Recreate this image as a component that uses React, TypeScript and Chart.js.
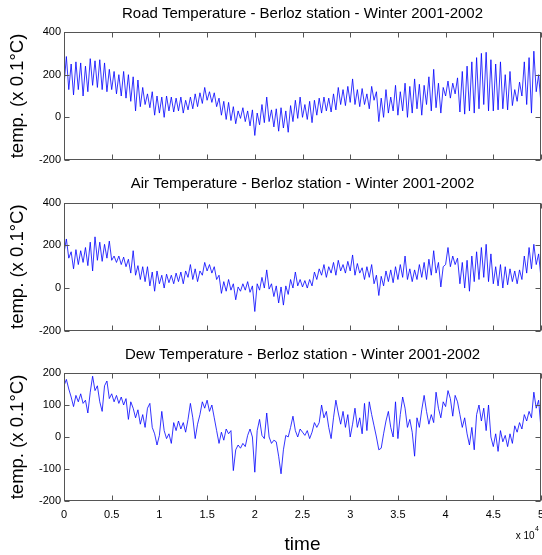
import React, { useEffect, useRef } from 'react';
import { Chart, registerables } from 'chart.js';

Chart.register(...registerables);

// ---------- data ----------
const SAMPLE_STEP = 250; // time units between samples
const X_MIN = 0;
const X_MAX = 50000;
const X_TICK_STEP = 5000;
const X_SCALE_DIVISOR = 10000; // tick labels shown as "x 10^4"

const TITLES = [
  'Road Temperature - Berloz station - Winter 2001-2002',
  'Air Temperature - Berloz station - Winter 2001-2002',
  'Dew Temperature - Berloz station - Winter 2001-2002',
];
const Y_LABEL = 'temp. (x 0.1°C)';
const X_LABEL = 'time';
const X_EXPONENT_BASE = 'x 10';
const X_EXPONENT = '4';

const ROAD_TEMP = [
  150, 285, 130, 250, 105, 260, 130, 255, 100, 240,
  120, 275, 150, 265, 140, 270, 130, 255, 120, 225,
  130, 215, 110, 200, 100, 215, 90, 200, 75, 190,
  30, 175, 50, 140, 60, 110, 45, 120, 10, 100,
  20, 95, 0, 100, 30, 95, 25, 90, 30, 95,
  20, 80, 35, 95, 40, 110, 50, 115, 65, 140,
  80, 120, 70, 115, 50, 90, 10, 75, -10, 70,
  -15, 50, -30, 30, -5, 45, -20, 30, -40, 35,
  -85, 20, -35, 60, -25, 95, -20, 35, -45, 40,
  -65, 45, -50, 30, -70, 55, -20, 80, -5, 95,
  0, 60, -10, 75, -25, 80, 10, 90, 20, 95,
  30, 90, 25, 110, 35, 140, 60, 130, 55, 145,
  70, 180, 60, 130, 50, 135, 60, 110, 40, 145,
  80, 120, -20, 90, 0, 130, 20, 95, 30, 150,
  10, 120, 30, 160, 0, 145, 20, 180, 40, 155,
  10, 150, 60, 190, 30, 225, 45, 160, 20, 140,
  100, 170, 90, 160, 110, 185, 25, 215, 15, 240,
  30, 260, 20, 280, 40, 300, 60, 305, 30, 270,
  30, 250, 35, 260, 40, 200, 35, 215, 55, 130,
  75, 165, 100, 260, 60, 280, 20, 310, 120, 200,
  60,
];

const AIR_TEMP = [
  165, 230, 140, 170, 90, 180, 110, 175, 120, 190,
  105, 215, 80, 240, 130, 215, 125, 205, 140, 220,
  130, 150, 120, 150, 110, 145, 100, 135, 70, 175,
  60, 105, 40, 100, 30, 100, 10, 75, -15, 80,
  20, 60, 0, 65, 25, 60, 20, 70, 30, 75,
  20, 80, 50, 110, 40, 90, 30, 80, 60, 120,
  80, 110, 70, 100, 40, 60, -25, 30, -15, 40,
  -10, 20, -55, 5, -15, 20, -10, 30, -20, 10,
  -110, 20, -10, 50, 0, 85, -5, 20, -40, 10,
  -70, 5, -80, 10, -30, 40, 0, 75, 10, 40,
  5, 35, 0, 40, 10, 75, 40, 90, 60, 110,
  50, 100, 70, 120, 60, 130, 80, 110, 70, 125,
  80, 155, 60, 115, 70, 95, 40, 100, 50, 110,
  20, 60, -35, 55, 10, 80, 30, 85, 25, 100,
  40, 110, 50, 150, 40, 90, 30, 85, 40, 110,
  50, 120, 40, 135, 60, 175, 70, 120, 5, 100,
  110, 190, 100, 150, 110, 140, 20, 120, 0, 130,
  -15, 150, 30, 170, 40, 190, 50, 205, 30, 160,
  20, 100, 10, 110, 0, 100, 15, 90, 30, 80,
  20, 85, 40, 150, 70, 190, 90, 205, 110, 160,
  45,
];

const DEW_TEMP = [
  160, 180, 150, 125, 95, 130, 110, 135, 105, 115,
  75, 140, 190, 145, 160, 110, 80, 160, 175, 120,
  135, 110, 130, 105, 125, 100, 120, 55, 110, 90,
  60, 85, 40, 70, 30, 90, 105, 30, 10, -25,
  5, 80, 20, -5, 10, -20, 45, 20, 50, 25,
  45, 15, 55, 105, 60, -5, 40, 70, 110, 90,
  115, 80, 100, 60, 20, -20, 15, -10, 25, 10,
  20, -105, -40, -25, -35, -20, -30, 5, 25, 0,
  -110, 20, 55, 5, -5, 75, 0, -20, -10, -15,
  -60, -115, -40, 5, 0, 30, 65, 20, 0, 25,
  15, 5, 20, -5, 15, 45, 30, 45, 100, 60,
  80, 30, -5, 60, 115, 75, 40, 80, 30, 70,
  0, 40, 90, 30, 60, 10, 105, 20, 110, 70,
  35, 0, -40, -35, 10, 50, 80, 30, 0, 110,
  -5, 70, 125, 90, 30, 55, 15, -60, 60, 30,
  85, 130, 80, 40, 70, 45, 140, 90, 60, 110,
  95, 145, 120, 65, 130, 110, 70, 30, 60, 10,
  -25, 30, -40, 70, 100, 50, 90, 20, 100, 0,
  -30, 10, -45, 20, -15, 5, -30, 10, -20, 35,
  15, 45, 25, 70, 50, 80, 60, 140, 90, 115,
  25,
];

// ---------- styling ----------
const FONT = "'Liberation Sans', Arial, Helvetica, sans-serif";
const LINE_COLOR = '#0000ff';
const FRAME_COLOR = '#555555';
const WIDTH = 542;
const TITLE_SIZE = 15;
const TITLE_LH = 1.2;
const TITLE_GAP = 9.5; // padding below title

function toPoints(values: number[]) {
  return values.map((y, i) => ({ x: i * SAMPLE_STEP, y }));
}

const framePlugin = {
  id: 'frame',
  afterDraw(chart: any, _args: any, opts: any) {
    const { ctx, chartArea: a } = chart;
    const xs = chart.scales.x;
    const ys = chart.scales.y;
    const L = Math.round(a.left) + 0.5;
    const R = Math.round(a.right) - 0.5;
    const T = Math.round(a.top) + 0.5;
    const B = Math.round(a.bottom) - 0.5;
    const len = 5;
    ctx.save();
    ctx.strokeStyle = FRAME_COLOR;
    ctx.lineWidth = 1;
    ctx.strokeRect(L, T, R - L, B - T);
    ctx.beginPath();
    xs.ticks.forEach((t: any) => {
      const px = Math.round(xs.getPixelForValue(t.value)) + 0.5;
      ctx.moveTo(px, B);
      ctx.lineTo(px, B - len);
      ctx.moveTo(px, T);
      ctx.lineTo(px, T + len);
    });
    ys.ticks.forEach((t: any) => {
      const py = Math.round(ys.getPixelForValue(t.value)) + 0.5;
      ctx.moveTo(L, py);
      ctx.lineTo(L + len, py);
      ctx.moveTo(R, py);
      ctx.lineTo(R - len, py);
    });
    ctx.stroke();
    if (opts && opts.exponent) {
      ctx.fillStyle = '#000';
      ctx.textAlign = 'right';
      ctx.textBaseline = 'alphabetic';
      ctx.font = `7px ${FONT}`;
      const expW = ctx.measureText(X_EXPONENT).width;
      const rightX = a.right - 2;
      ctx.fillText(X_EXPONENT, rightX, a.bottom + 30);
      ctx.font = `10px ${FONT}`;
      ctx.fillText(X_EXPONENT_BASE, rightX - expW - 0.5, a.bottom + 38);
    }
    ctx.restore();
  },
};

type PanelProps = {
  title: string;
  values: number[];
  yMin: number;
  yMax: number;
  yStep: number;
  top: number;
  height: number;
  plotTop: number;
  plotBottom: number;
  showX: boolean;
};

function Panel(p: PanelProps) {
  const ref = useRef<HTMLCanvasElement>(null);
  useEffect(() => {
    if (!ref.current) return;
    const chart = new Chart(ref.current, {
      type: 'line',
      data: {
        datasets: [
          {
            data: toPoints(p.values),
            borderColor: LINE_COLOR,
            borderWidth: 0.8,
            pointRadius: 0,
            tension: 0,
            fill: false,
          },
        ],
      },
      options: {
        animation: false,
        responsive: false,
        maintainAspectRatio: false,
        devicePixelRatio: 1,
        events: [],
        layout: { autoPadding: false, padding: { left: 0, right: 1, top: 0, bottom: 0 } },
        plugins: {
          legend: { display: false },
          tooltip: { enabled: false },
          title: {
            display: true,
            text: p.title,
            fullSize: false,
            color: '#000',
            font: { family: FONT, size: TITLE_SIZE, weight: 'normal', lineHeight: TITLE_LH },
            padding: { top: p.plotTop - TITLE_SIZE * TITLE_LH - TITLE_GAP, bottom: TITLE_GAP },
          },
          frame: { exponent: p.showX },
        } as any,
        scales: {
          x: {
            type: 'linear',
            min: X_MIN,
            max: X_MAX,
            position: 'bottom',
            grid: { display: false, drawTicks: false },
            border: { display: false },
            ticks: {
              display: p.showX,
              stepSize: X_TICK_STEP,
              autoSkip: false,
              maxRotation: 0,
              padding: 7,
              color: '#000',
              font: { family: FONT, size: 11 },
              callback: (v: any) => String(Number(v) / X_SCALE_DIVISOR),
            },
            title: {
              display: p.showX,
              text: X_LABEL,
              color: '#000',
              font: { family: FONT, size: 19, lineHeight: 1 },
              padding: { top: 0, bottom: 1 },
            },
            afterFit: (s: any) => {
              s.height = p.height - p.plotBottom;
              s.paddingLeft = 0;
              s.paddingRight = 0;
            },
          },
          y: {
            type: 'linear',
            min: p.yMin,
            max: p.yMax,
            position: 'left',
            grid: { display: false, drawTicks: false },
            border: { display: false },
            ticks: {
              stepSize: p.yStep,
              padding: 3,
              color: '#000',
              font: { family: FONT, size: 11 },
              callback: (v: any) => String(v),
            },
            title: {
              display: true,
              text: Y_LABEL,
              color: '#000',
              font: { family: FONT, size: 18.5, lineHeight: 1.2 },
              padding: { top: 6.4, bottom: 0 },
            },
            afterFit: (s: any) => {
              s.width = 64;
              s.paddingTop = 0;
              s.paddingBottom = 0;
            },
          },
        },
      } as any,
      plugins: [framePlugin],
    });
    return () => chart.destroy();
  }, []);
  return (
    <canvas
      ref={ref}
      width={WIDTH}
      height={p.height}
      style={{ position: 'absolute', left: 0, top: p.top, width: WIDTH, height: p.height }}
    />
  );
}

export default function App() {
  return (
    <div
      style={{
        position: 'fixed',
        left: 0,
        top: 0,
        width: WIDTH,
        height: 555,
        background: '#fff',
      }}
    >
      <Panel title={TITLES[0]} values={ROAD_TEMP} yMin={-200} yMax={400} yStep={200}
        top={0} height={170} plotTop={32} plotBottom={160} showX={false} />
      <Panel title={TITLES[1]} values={AIR_TEMP} yMin={-200} yMax={400} yStep={200}
        top={170} height={170} plotTop={32.7} plotBottom={160.7} showX={false} />
      <Panel title={TITLES[2]} values={DEW_TEMP} yMin={-200} yMax={200} yStep={100}
        top={340} height={215} plotTop={33} plotBottom={161} showX={true} />
    </div>
  );
}
